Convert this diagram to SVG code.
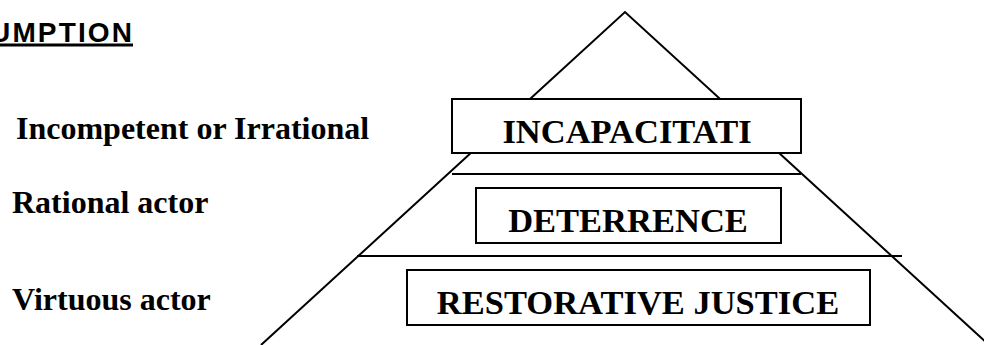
<svg xmlns="http://www.w3.org/2000/svg" width="984" height="345" viewBox="0 0 984 345">
  <style>
    .edge { stroke: #000; stroke-width: 2; fill: none; }
    .box { fill: #fff; stroke: #000; stroke-width: 2; }
    .boxlabel { font-family: "Liberation Serif", "Times New Roman", serif; font-weight: bold; font-size: 34.5px; fill: #000; text-anchor: middle; }
    .side { font-family: "Liberation Serif", "Times New Roman", serif; font-weight: bold; font-size: 32px; fill: #000; }
    .heading { font-family: "Liberation Sans", Arial, sans-serif; font-weight: bold; font-size: 28px; fill: #000; }
  </style>

  <rect width="984" height="345" fill="#fff"/>

  <!-- heading, running off the left edge -->
  <g id="heading">
    <text class="heading" x="-10" y="42" textLength="142" lengthAdjust="spacing">UMPTION</text>
    <rect x="0" y="43.5" width="133" height="3" fill="#000"/>
  </g>

  <!-- pyramid outline and tier dividers -->
  <g id="connectors">
    <polyline class="edge" points="261,345 625,12 989,345"/>
    <line class="edge" x1="452" y1="174" x2="801" y2="174"/>
    <line class="edge" x1="357" y1="256" x2="902" y2="256"/>
  </g>

  <!-- tier boxes -->
  <g id="incapacitation">
    <rect class="box" x="452" y="99" width="349" height="54"/>
    <text class="boxlabel" x="627" y="143">INCAPACITATI</text>
  </g>
  <g id="deterrence">
    <rect class="box" x="476" y="188" width="305" height="55"/>
    <text class="boxlabel" x="628" y="232">DETERRENCE</text>
  </g>
  <g id="restorative">
    <rect class="box" x="407" y="270" width="463" height="55"/>
    <text class="boxlabel" x="638" y="314">RESTORATIVE JUSTICE</text>
  </g>

  <!-- offender assumptions on the left -->
  <g id="label-incompetent">
    <text class="side" x="16" y="139">Incompetent or Irrational</text>
  </g>
  <g id="label-rational">
    <text class="side" x="12" y="213">Rational actor</text>
  </g>
  <g id="label-virtuous">
    <text class="side" x="12" y="310">Virtuous actor</text>
  </g>
</svg>
